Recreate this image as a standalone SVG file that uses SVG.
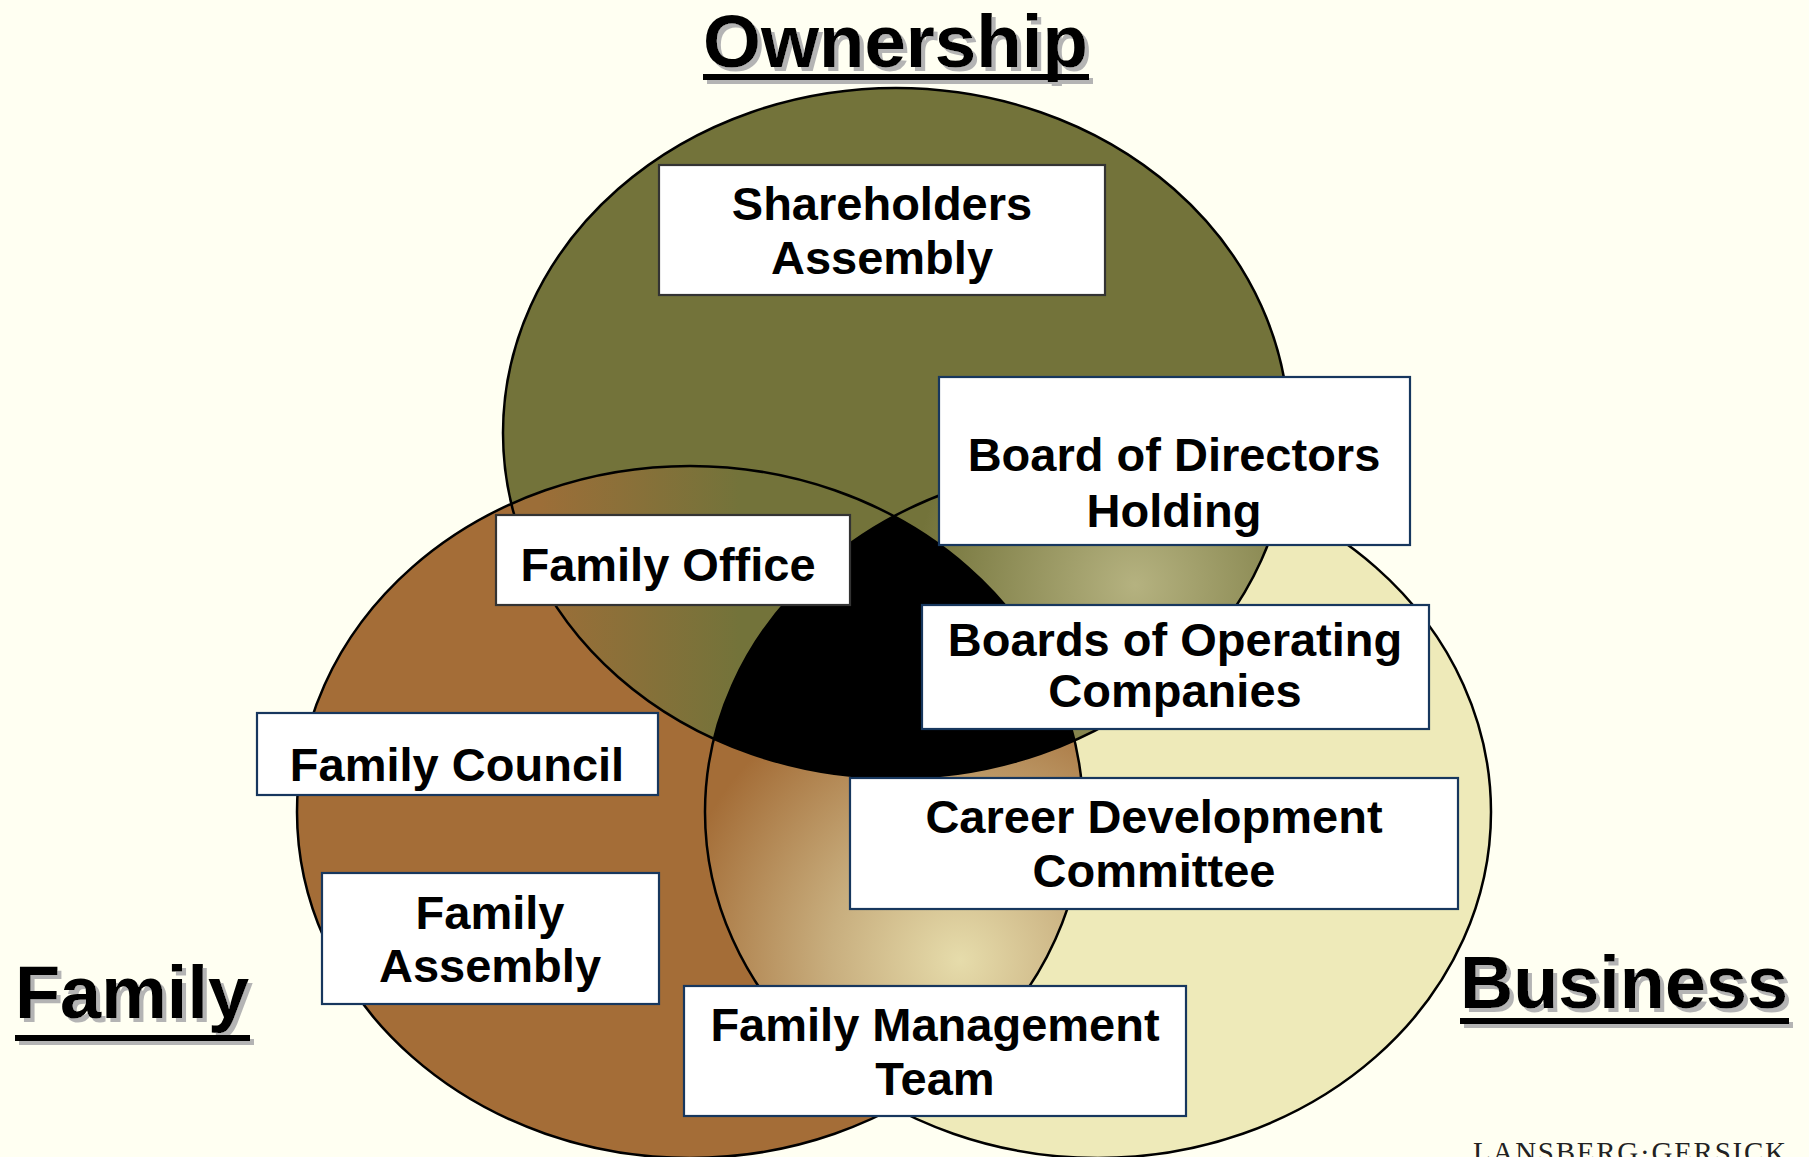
<svg xmlns="http://www.w3.org/2000/svg" width="1809" height="1157" viewBox="0 0 1809 1157">
  <style>
    .ring { fill: none; stroke: #000; stroke-width: 2.5; }
    .box { fill: #fff; stroke: #17375e; stroke-width: 2.2; }
    .box-dark { fill: #fff; stroke: #333; stroke-width: 2.2; }
    .label { font-family: "Liberation Sans", Arial, sans-serif; font-weight: bold; font-size: 47px; fill: #000; text-anchor: middle; }
    .title { font-family: "Liberation Sans", Arial, sans-serif; font-weight: bold; font-size: 74px; fill: #000; }
    .titled { filter: url(#shadow); }
    .mark { font-family: "Liberation Serif", "Times New Roman", serif; font-size: 29px; fill: #222; letter-spacing: 3px; }
  </style>
  <defs>
    <filter id="shadow" x="-5%" y="-20%" width="115%" height="150%">
      <feDropShadow dx="4" dy="4" stdDeviation="0" flood-color="#b4b4b4" flood-opacity="1"/>
    </filter>
    <clipPath id="clipOwn"><ellipse cx="896" cy="433" rx="393" ry="345"/></clipPath>
    <clipPath id="clipFam"><ellipse cx="690" cy="812" rx="393" ry="346"/></clipPath>
    <clipPath id="clipBus"><ellipse cx="1098" cy="812" rx="393" ry="346"/></clipPath>
    <!-- Ownership ∩ Family: brown fading into olive -->
    <linearGradient id="gOF" gradientUnits="userSpaceOnUse" x1="540" y1="0" x2="740" y2="0">
      <stop offset="0" stop-color="#9c6e38"/>
      <stop offset="1" stop-color="#73733a"/>
    </linearGradient>
    <!-- Ownership ∩ Business: olive with a pale centre -->
    <radialGradient id="gOB" gradientUnits="userSpaceOnUse" cx="1135" cy="585" r="220">
      <stop offset="0" stop-color="#b5b280"/>
      <stop offset="1" stop-color="#73733a"/>
    </radialGradient>
    <!-- Family ∩ Business: brown fading into pale -->
    <radialGradient id="gFB" gradientUnits="userSpaceOnUse" cx="960" cy="960" r="290">
      <stop offset="0" stop-color="#e6dcab"/>
      <stop offset="0.45" stop-color="#c8ae7e"/>
      <stop offset="1" stop-color="#a46d37"/>
    </radialGradient>
  </defs>

  <rect x="0" y="0" width="1809" height="1157" fill="#fffff2"/>

  <!-- Three overlapping circles -->
  <g id="circles">
    <ellipse id="circle-ownership" cx="896" cy="433" rx="393" ry="345" fill="#73733a"/>
    <ellipse id="circle-family" cx="690" cy="812" rx="393" ry="346" fill="#a46d37"/>
    <ellipse id="circle-business" cx="1098" cy="812" rx="393" ry="346" fill="#eeeab9"/>
    <ellipse cx="896" cy="433" rx="393" ry="345" fill="url(#gOF)" clip-path="url(#clipFam)"/>
    <ellipse cx="896" cy="433" rx="393" ry="345" fill="url(#gOB)" clip-path="url(#clipBus)"/>
    <ellipse cx="690" cy="812" rx="393" ry="346" fill="url(#gFB)" clip-path="url(#clipBus)"/>
    <g clip-path="url(#clipBus)">
      <ellipse cx="896" cy="433" rx="393" ry="345" fill="#000" clip-path="url(#clipFam)"/>
    </g>
    <ellipse class="ring" cx="896" cy="433" rx="393" ry="345"/>
    <ellipse class="ring" cx="690" cy="812" rx="393" ry="346"/>
    <ellipse class="ring" cx="1098" cy="812" rx="393" ry="346"/>
  </g>

  <!-- Governance bodies -->
  <g id="shareholders-assembly">
    <rect class="box-dark" x="659" y="165" width="446" height="130"/>
    <text class="label" x="882" y="220">Shareholders</text>
    <text class="label" x="882" y="274">Assembly</text>
  </g>
  <g id="board-of-directors-holding">
    <rect class="box" x="939" y="377" width="471" height="168"/>
    <text class="label" x="1174" y="471">Board of Directors</text>
    <text class="label" x="1174" y="527">Holding</text>
  </g>
  <g id="family-office">
    <rect class="box-dark" x="496" y="515" width="354" height="90"/>
    <text class="label" x="668" y="581">Family Office</text>
  </g>
  <g id="boards-of-operating-companies">
    <rect class="box" x="922" y="605" width="507" height="124"/>
    <text class="label" x="1175" y="656">Boards of Operating</text>
    <text class="label" x="1175" y="707">Companies</text>
  </g>
  <g id="family-council">
    <rect class="box" x="257" y="713" width="401" height="82"/>
    <text class="label" x="457" y="781">Family Council</text>
  </g>
  <g id="career-development-committee">
    <rect class="box" x="850" y="778" width="608" height="131"/>
    <text class="label" x="1154" y="833">Career Development</text>
    <text class="label" x="1154" y="887">Committee</text>
  </g>
  <g id="family-assembly">
    <rect class="box" x="322" y="873" width="337" height="131"/>
    <text class="label" x="490" y="929">Family</text>
    <text class="label" x="490" y="982">Assembly</text>
  </g>
  <g id="family-management-team">
    <rect class="box" x="684" y="986" width="502" height="130"/>
    <text class="label" x="935" y="1041">Family Management</text>
    <text class="label" x="935" y="1095">Team</text>
  </g>

  <!-- Circle titles, underlined with a drop shadow -->
  <g id="title-ownership" class="titled">
    <text class="title" x="703" y="67" textLength="385" lengthAdjust="spacingAndGlyphs">Ownership</text>
    <rect x="703" y="74" width="386" height="6"/>
  </g>
  <g id="title-family" class="titled">
    <text class="title" x="15" y="1018" textLength="234" lengthAdjust="spacingAndGlyphs">Family</text>
    <rect x="15" y="1035" width="235" height="6"/>
  </g>
  <g id="title-business" class="titled">
    <text class="title" x="1460" y="1008" textLength="328" lengthAdjust="spacingAndGlyphs">Business</text>
    <rect x="1460" y="1018" width="329" height="6"/>
  </g>

  <text class="mark" x="1473" y="1162" textLength="316" lengthAdjust="spacing">LANSBERG·GERSICK</text>
</svg>
